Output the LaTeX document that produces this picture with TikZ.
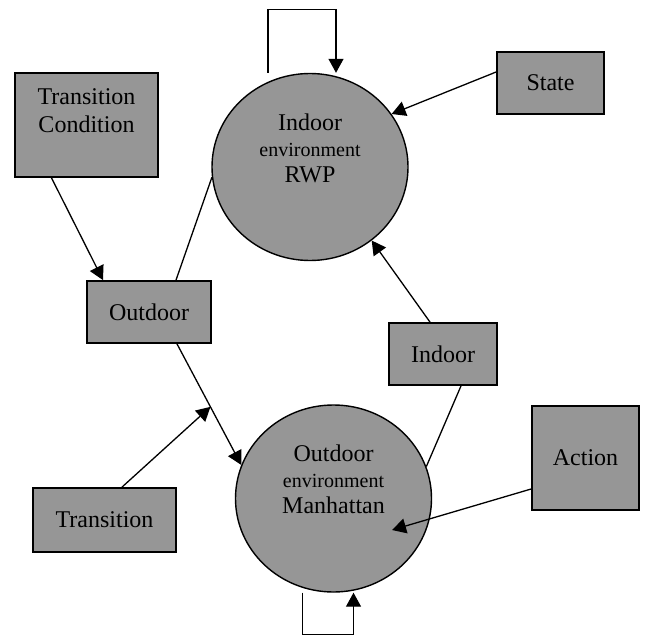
\documentclass[tikz,border=0pt]{standalone}
\usepackage{fontspec}
\setmainfont{Liberation Serif}
\usetikzlibrary{arrows.meta,shapes.geometric}
\definecolor{cfill}{HTML}{969696}
\newcommand{\envsize}{\fontsize{10}{13}\selectfont}
\tikzset{
  box/.style={draw, line width=0.9pt, fill=cfill, inner sep=2pt, align=center, font=\fontsize{12}{14}\selectfont},
  envn/.style={ellipse, draw, line width=0.7pt, fill=cfill, inner sep=0pt, minimum width=98pt, minimum height=93.5pt, align=center, font=\fontsize{12}{13}\selectfont},
  pre/.style={-{Triangle[length=7pt,width=7.5pt]}, line width=0.65pt},
  link/.style={line width=0.65pt},
}
\begin{document}
\begin{tikzpicture}[x=0.5pt,y=-0.5pt]
\useasboundingbox (0,0) rectangle (646,636);
% environments
\node[envn] (rwp) at (310,167) {Indoor\\{\envsize environment}\\RWP\\[6pt]\mbox{}};
\node[envn] (man) at (333.5,498.5) {Outdoor\\{\envsize environment}\\Manhattan\\[6pt]\mbox{}};
% boxes
\node[box, minimum width=71.5pt, minimum height=52pt] (tcond) at (86.5,125) {Transition\\Condition\\\mbox{}};
\node[box, minimum width=62pt, minimum height=31pt] (outdoor) at (149,312) {Outdoor};
\node[box, minimum width=54pt, minimum height=31pt] (indoor) at (443,354) {Indoor};
\node[box, minimum width=53.5pt, minimum height=31pt] (state) at (550.5,83) {State};
\node[box, minimum width=53.5pt, minimum height=52pt] (action) at (585.5,458) {Action};
\node[box, minimum width=71.5pt, minimum height=32pt] (trans) at (104.5,520) {Transition};
% connectors
\draw[pre] ([shift={(-42,0)}]rwp.north) -- ++(0,-63) -| ([shift={(26,0)}]rwp.north);
\draw[pre] ([shift={(0,-11)}]state.west) -- (rwp.33);
\draw[pre] ([shift={(-35,0)}]tcond.south) -- ([shift={(-46,0)}]outdoor.north);
\draw[link] ([shift={(27,0)}]outdoor.north) -- (rwp.186);
\draw[pre] ([shift={(28,0)}]outdoor.south) -- coordinate[pos=0.52] (join) (man.160);
\draw[pre] ([shift={(17.5,0)}]trans.north) -- (join);
\draw[pre] ([shift={(-13,0)}]indoor.north) -- (rwp.-50);
\draw[link] ([shift={(18,0)}]indoor.south) -- (man.19);
\draw[pre] ([shift={(0,31)}]action.west) -- ([shift={(58.5,31.5)}]man.center);
\draw[pre] ([shift={(-31,0)}]man.south) -- ++(0,42) -| ([shift={(20,0)}]man.south);
\end{tikzpicture}
\end{document}
